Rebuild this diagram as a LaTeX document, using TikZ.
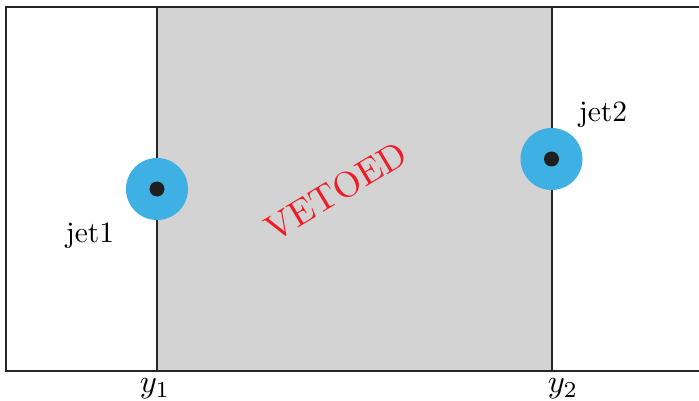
\documentclass[tikz,border=0pt]{standalone}
\usepackage{fontspec}
\begin{document}
\begin{tikzpicture}[x=1pt,y=-1pt,
  frame/.style={line width=1.6pt,draw=black!85},
  jetdisc/.style={circle,fill=jetblue,minimum size=62pt,inner sep=0pt},
  jetcore/.style={circle,fill=black!88,minimum size=15pt,inner sep=0pt},
  lbl/.style={scale=2.95,inner sep=0pt}]
\definecolor{jetblue}{HTML}{3EB0E4}
\definecolor{vetogray}{HTML}{D3D3D3}
\definecolor{vetored}{HTML}{EE1C25}
\useasboundingbox (0,0) rectangle (699,401);
% gray vetoed region
\fill[vetogray] (157,7) rectangle (552,371);
% outer frame (right edge outside the picture)
\draw[frame] (706,7) -- (6,7) -- (6,371) -- (706,371);
\draw[frame] (157,7) -- (157,371);
\draw[frame] (552,7) -- (552,371);
% jets
\node[jetdisc] (j1) at (157,189) {};
\node[jetcore] (c1) at (157,189) {};
\node[jetdisc] (j2) at (551.5,159) {};
\node[jetcore] (c2) at (551.5,159) {};
% labels
\node[lbl] (l1) at (90,236) {jet1};
\node[lbl] (l2) at (603,115) {jet2};
\node[lbl,scale=1.1] (y1) at (155,389) {$y_1$};
\node[lbl,scale=1.1] (y2) at (563,389) {$y_2$};
\node[scale=3.6,rotate=31,text=vetored,inner sep=0pt] (veto) at (336,191) {VETOED};
\end{tikzpicture}
\end{document}
